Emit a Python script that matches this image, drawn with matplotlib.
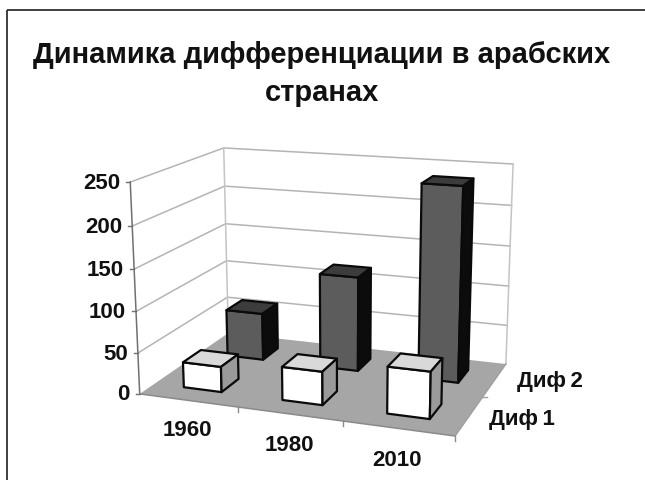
import numpy as np
import matplotlib
matplotlib.use("Agg")
import matplotlib.pyplot as plt
from matplotlib.patches import Polygon

title = "Динамика дифференциации в арабских\nстранах"
years = ["1960", "1980", "2010"]
series_names = ["Диф\u20091", "Диф\u20092"]
dif1 = [31, 40, 55]
dif2 = [60, 118, 237]
yticks = [0, 50, 100, 150, 200, 250]
ZMAX = 250

plt.rcParams['font.family'] = ['Liberation Sans', 'DejaVu Sans']
fig = plt.figure(figsize=(6.45, 4.81), dpi=100)
ax = fig.add_axes([0, 0, 1, 1])
ax.set_xlim(0, 645)
ax.set_ylim(481, 0)
ax.axis('off')

# perspective camera fitted to the box corners of the plot
world = [(0,0,0),(0,0,1),(0,1,0),(0,1,1),(1,1,0),(1,1,1),(1,0,0)]
screen = [(140,395),(130,183),(228,334),(224,149),(506,365),(513,165),(455,437)]
M, b = [], []
for (X,Y,Z),(u,v) in zip(world, screen):
    M.append([X,Y,Z,1,0,0,0,0,-u*X,-u*Y,-u*Z]); b.append(u)
    M.append([0,0,0,0,X,Y,Z,1,-v*X,-v*Y,-v*Z]); b.append(v)
p = np.linalg.lstsq(np.array(M,float), np.array(b,float), rcond=None)[0]
P = np.append(p, 1).reshape(3,4)

def proj(cat, ser, val):
    w = P @ np.array([cat/len(years), ser/len(series_names), val/ZMAX, 1.0])
    return (w[0]/w[2], w[1]/w[2])

# frame
ax.plot([7,7],[481,11],color='#303030',lw=1.3,solid_capstyle='butt')
ax.plot([7,645],[11,11],color='#303030',lw=1.3,solid_capstyle='butt')

ax.text(322, 55, title.split("\n")[0], ha='center', va='center', fontsize=21, fontweight='bold', color='#111111')
ax.text(322, 93, title.split("\n")[1], ha='center', va='center', fontsize=21, fontweight='bold', color='#111111')

# floor
ax.add_patch(Polygon([proj(0,0,0),proj(3,0,0),proj(3,2,0),proj(0,2,0)],fc='#a6a6a6',ec='none',zorder=1))

# walls and gridlines
grid = '#b4b4b4'
for t in yticks:
    a, c, d = proj(0,0,t), proj(0,2,t), proj(3,2,t)
    if t > 0:
        ax.plot([a[0],c[0],d[0]],[a[1],c[1],d[1]],color=grid,lw=1.1,zorder=2)
for pts in ([proj(0,2,0),proj(0,2,ZMAX)],[proj(3,2,0),proj(3,2,ZMAX)]):
    ax.plot(*zip(*pts),color='#c4c4c4',lw=1.1,zorder=2)

# axes
axis_c = '#707070'
ax.plot(*zip(proj(0,0,0),proj(0,0,ZMAX)),color=axis_c,lw=1.1,zorder=3)
ax.plot(*zip(proj(0,0,0),proj(3,0,0)),color='#8a8a8a',lw=1.1,zorder=3)
ax.plot(*zip(proj(3,0,0),proj(3,2,0)),color='#a0a0a0',lw=1.1,zorder=3)
for t in yticks:
    x,y = proj(0,0,t)
    ax.plot([x-4,x],[y,y],color=axis_c,lw=1,zorder=3)
    ax.text(x-10, y, str(t), ha='right', va='center', fontsize=16, fontweight='bold', color='#111111')
for i in range(1,4):
    x,y = proj(i,0,0)
    ax.plot([x,x],[y,y+5],color='#8a8a8a',lw=1,zorder=3)
x,y = proj(3,1,0)
ax.plot([x,x+5],[y,y],color='#a0a0a0',lw=1,zorder=3)

ylab = [(187,431),(289,446),(397,461)]
for s,(x,y) in zip(years,ylab):
    ax.text(x, y, s, ha='center', va='center', fontsize=16, fontweight='bold', color='#111111')
ax.text(550, 382, series_names[1], ha='center', va='center', fontsize=16, fontweight='bold', color='#111111')
ax.text(522, 420, series_names[0], ha='center', va='center', fontsize=16, fontweight='bold', color='#111111')

# bars
W = 0.39
def box(cat, ser, val, front, top, side, z):
    x0,x1 = cat+0.5-W/2, cat+0.5+W/2
    y0,y1 = ser+0.5-W/2, ser+0.5+W/2
    faces = [([ (x0,y0,0),(x1,y0,0),(x1,y0,val),(x0,y0,val) ],front),
             ([ (x0,y0,val),(x1,y0,val),(x1,y1,val),(x0,y1,val) ],top),
             ([ (x1,y0,0),(x1,y1,0),(x1,y1,val),(x1,y0,val) ],side)]
    for f,c in faces:
        ax.add_patch(Polygon([proj(*q) for q in f],fc=c,ec='#0a0a0a',lw=1.6,joinstyle='round',zorder=z))

for i,v in enumerate(dif2):
    box(i,1,v,'#5c5c5c','#3c3c3c','#0c0c0c',5+i)
for i,v in enumerate(dif1):
    box(i,0,v,'#ffffff','#d9d9d9','#9a9a9a',10+i)

fig.savefig('out.png', dpi=100)
